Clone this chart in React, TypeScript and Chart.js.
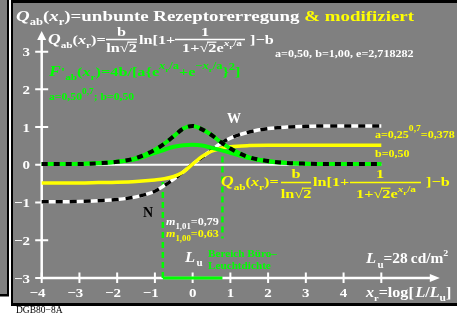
import { useEffect, useRef } from 'react';
import { Chart, registerables } from 'chart.js';

Chart.register(...registerables);

// ---- data ----
const xs = [-4, -3.5, -3, -2.5, -2, -1.5, -1, -0.75, -0.5, -0.25, 0, 0.25, 0.5, 0.75, 1, 1.5, 2, 2.5, 3, 3.5, 4, 4.5, 5];
// Q_ab(x_r), a=0,50, b=1,00 (black/white dashed)
const qBlack = [-0.98, -0.98, -0.97, -0.95, -0.92, -0.85, -0.70, -0.55, -0.38, -0.19, 0.02, 0.2, 0.39, 0.57, 0.71, 0.87, 0.96, 1.0, 1.02, 1.03, 1.03, 1.03, 1.03];
// modified Q_ab(x_r), a=0,378, b=0,50 (yellow)
const qYellow = [-0.48, -0.48, -0.48, -0.47, -0.46, -0.44, -0.40, -0.37, -0.31, -0.19, 0.02, 0.22, 0.36, 0.44, 0.48, 0.51, 0.52, 0.52, 0.52, 0.52, 0.52, 0.52, 0.52];
// F'_ab(x_r) (green with black dashes)
const dGreenDashed = [0.02, 0.02, 0.02, 0.04, 0.08, 0.18, 0.40, 0.56, 0.76, 0.96, 1.03, 0.94, 0.79, 0.60, 0.43, 0.20, 0.10, 0.05, 0.03, 0.02, 0.02, 0.02, 0.02];
// F'_ab(x_r) modified (green solid)
const dGreenSolid = [0.02, 0.02, 0.03, 0.05, 0.08, 0.15, 0.32, 0.40, 0.48, 0.52, 0.53, 0.51, 0.45, 0.39, 0.32, 0.18, 0.09, 0.05, 0.03, 0.02, 0.02, 0.02, 0.02];

const xTickValues = [-4, -3, -2, -1, 0, 1, 2, 3, 4, 5];
const xTickLabels = ['−4', '−3', '−2', '−1', '0', '1', '2', '3', '4', ''];
const yTickValues = [-3, -2, -1, 0, 1, 2, 3];
const yTickLabels = ['−3', '−2', '−1', '0', '1', '2', '3'];

const markLeftX = -0.79;
const markRightX = 0.79;
const markLeftTop = -0.38;
const markRightTop = 0.22;
const markRightBottom = -1.95;

const X_MIN = -4, X_MAX = 6.55, Y_MIN = -3, Y_MAX = 3.55;

const WHITE = '#ffffff', YEL = '#ffff00', GRN = '#00ff00', BLK = '#000000', GRAY = '#808080';
const FAM = '"Liberation Serif","Times New Roman",serif';

type Run = [string, number, string?, number?, string?];

function fnt(size: number, flags = '') {
  return `${flags.includes('i') ? 'italic ' : ''}${flags.includes('n') ? '' : 'bold '}${size}px ${FAM}`;
}
function runsWidth(ctx: CanvasRenderingContext2D, runs: Run[]) {
  let w = 0;
  for (const r of runs) { ctx.font = fnt(r[1], r[2] || ''); w += ctx.measureText(r[0]).width; }
  return w;
}
function drawRuns(ctx: CanvasRenderingContext2D, x: number, y: number, runs: Run[], color: string, sx = 1, align = 'left') {
  ctx.save();
  ctx.translate(x, y);
  ctx.scale(sx, 1);
  ctx.textAlign = 'left';
  ctx.textBaseline = 'alphabetic';
  let cx = align === 'center' ? -runsWidth(ctx, runs) / 2 : 0;
  for (const r of runs) {
    const flags = r[2] || '';
    ctx.font = fnt(r[1], flags);
    ctx.fillStyle = r[4] || color;
    const dy = r[3] || 0;
    ctx.fillText(r[0], cx, dy);
    const w = ctx.measureText(r[0]).width;
    if (flags.includes('o')) ctx.fillRect(cx - 1, dy - r[1] * 0.8, w + 1, 1.2);
    cx += w;
  }
  ctx.restore();
}
function bar(ctx: CanvasRenderingContext2D, x1: number, x2: number, y: number, color: string) {
  ctx.fillStyle = color;
  ctx.fillRect(x1, y - 0.75, x2 - x1, 1.5);
}

const pts = (ys: number[]) => xs.map((x, i) => ({ x, y: ys[i] }));

const framePlugin = {
  id: 'frame',
  beforeDraw(chart: any) {
    const ctx = chart.ctx as CanvasRenderingContext2D;
    ctx.save();
    ctx.fillStyle = WHITE; ctx.fillRect(0, 0, 457, 315);
    ctx.fillStyle = GRAY; ctx.fillRect(0, 0, 7, 295);
    ctx.fillStyle = BLK;
    ctx.fillRect(0, 294, 9, 2.5);
    ctx.fillRect(7, 0, 2, 296);
    ctx.fillRect(11, 0, 2, 306);
    ctx.fillRect(11, 0, 446, 3);
    ctx.fillRect(11, 303, 446, 3);
    ctx.fillStyle = GRAY; ctx.fillRect(13, 3, 444, 300);
    ctx.restore();
    drawRuns(ctx, 16, 313, [['DGB80−8A', 9.5, 'n']], BLK, 1);
  },
  beforeDatasetsDraw(chart: any) {
    const ctx = chart.ctx as CanvasRenderingContext2D;
    const xs_ = chart.scales.x, ys_ = chart.scales.y;
    const xA = xs_.getPixelForValue(X_MIN);
    const yB = ys_.getPixelForValue(Y_MIN);
    const yT = ys_.getPixelForValue(Y_MAX);
    const xR = xs_.getPixelForValue(X_MAX);
    ctx.save();
    ctx.strokeStyle = WHITE; ctx.fillStyle = WHITE;
    ctx.lineWidth = 2.5;
    ctx.beginPath();
    ctx.moveTo(xA, yB + 1); ctx.lineTo(xA, yT + 6);
    ctx.moveTo(xA - 1, yB); ctx.lineTo(xR - 6, yB);
    ctx.stroke();
    ctx.beginPath();
    ctx.moveTo(xA, yT); ctx.lineTo(xA - 4.5, yT + 9); ctx.lineTo(xA + 4.5, yT + 9); ctx.closePath(); ctx.fill();
    ctx.beginPath();
    ctx.moveTo(xR, yB); ctx.lineTo(xR - 10, yB - 4); ctx.lineTo(xR - 10, yB + 4); ctx.closePath(); ctx.fill();
    ctx.lineWidth = 2;
    ctx.beginPath();
    for (const v of yTickValues) {
      const y = ys_.getPixelForValue(v);
      ctx.moveTo(xA - 6.5, y); ctx.lineTo(xA + 6.5, y);
    }
    for (const v of xTickValues) {
      const x = xs_.getPixelForValue(v);
      ctx.moveTo(x, yB - 5.5); ctx.lineTo(x, yB + 5);
    }
    ctx.stroke();
    ctx.restore();
    // tick labels
    const sx = 1.15;
    xTickValues.forEach((v, i) => {
      const lab = xTickLabels[i];
      if (!lab) return;
      const x = xs_.getPixelForValue(v);
      const digits = lab.replace('−', '');
      ctx.font = fnt(13);
      const wd = ctx.measureText(digits).width * sx;
      const wm = lab.startsWith('−') ? ctx.measureText('−').width * sx : 0;
      drawRuns(ctx, x - wd / 2 - wm, 297, [[lab, 13]], WHITE, sx);
    });
    yTickValues.forEach((v, i) => {
      const y = ys_.getPixelForValue(v);
      const lab = yTickLabels[i];
      ctx.font = fnt(13);
      const w = ctx.measureText(lab).width * sx;
      drawRuns(ctx, 30 - w, y + 4.5, [[lab, 13]], WHITE, sx);
    });
  },
  afterDatasetsDraw(chart: any) {
    const ctx = chart.ctx as CanvasRenderingContext2D;
    // title
    drawRuns(ctx, 16, 21, [['Q', 15, 'i'], ['ab', 10, '', 4], ['(', 15], ['x', 15, 'i'], ['r', 10, '', 4], [')=unbunte Rezeptorerregung', 15], [' & modifiziert', 15, '', 0, YEL]], WHITE, 1.26);
    // formula (white)
    const fs = 1.25;
    drawRuns(ctx, 48, 44, [['Q', 14, 'i'], ['ab', 9, '', 4], ['(', 13], ['x', 13, 'i'], ['r', 9, '', 4], [')=', 13]], WHITE, fs);
    bar(ctx, 106, 137, 39.5, WHITE);
    drawRuns(ctx, 121.5, 36, [['b', 13]], WHITE, fs, 'center');
    drawRuns(ctx, 121.5, 52, [['ln', 13], ['√', 13], ['2', 13, 'o']], WHITE, fs, 'center');
    drawRuns(ctx, 139, 44, [['ln[1+', 13]], WHITE, fs);
    bar(ctx, 175, 245, 39.5, WHITE);
    drawRuns(ctx, 205, 36, [['1', 13]], WHITE, fs, 'center');
    drawRuns(ctx, 182, 52, [['1+', 13], ['√', 13], ['2', 13, 'o'], ['e', 13], ['x', 9, 'i', -6], ['r', 7, '', -3], ['/a', 9, '', -6]], WHITE, fs);
    drawRuns(ctx, 250, 44, [[']−b', 13]], WHITE, fs);
    drawRuns(ctx, 275, 57, [['a=0,50, b=1,00, e=2,718282', 11]], WHITE, 1.1);
    // green formula
    drawRuns(ctx, 49, 76, [['F', 14, 'i'], ['\'', 13], ['ab', 9, '', 4], ['(', 13], ['x', 13, 'i'], ['r', 9, '', 4], [')=4b/[a{e', 13], ['x', 10, 'i', -7], ['r', 7, '', -4], ['/a', 10, '', -7], ['+e', 13], ['−', 10, '', -7], ['x', 10, 'i', -7], ['r', 7, '', -4], ['/a', 10, '', -7], ['}', 13], ['2', 10, '', -6], [']', 13]], GRN, 1.25);
    drawRuns(ctx, 49, 100, [['a=0,50', 10], ['0,7', 8, '', -6], ['; b=0,50', 10]], GRN, 1.17);
    // W, N
    drawRuns(ctx, 227, 123, [['W', 14]], WHITE, 1);
    drawRuns(ctx, 143, 217, [['N', 14]], BLK, 1);
    // yellow right texts
    drawRuns(ctx, 375, 138, [['a=0,25', 10], ['0,7', 8, '', -7], ['=0,378', 10]], YEL, 1.2);
    drawRuns(ctx, 375, 157, [['b=0,50', 10]], YEL, 1.2);
    // yellow formula
    drawRuns(ctx, 221, 186, [['Q', 14, 'i'], ['ab', 9, '', 4], ['(', 13], ['x', 13, 'i'], ['r', 9, '', 4], [')=', 13]], YEL, fs);
    bar(ctx, 281, 311, 182.5, YEL);
    drawRuns(ctx, 296, 178, [['b', 13]], YEL, fs, 'center');
    drawRuns(ctx, 296, 198, [['ln', 13], ['√', 13], ['2', 13, 'o']], YEL, fs, 'center');
    drawRuns(ctx, 313, 186, [['ln[1+', 13]], YEL, fs);
    bar(ctx, 350, 421, 182.5, YEL);
    drawRuns(ctx, 380, 178, [['1', 13]], YEL, fs, 'center');
    drawRuns(ctx, 356, 198, [['1+', 13], ['√', 13], ['2', 13, 'o'], ['e', 13], ['x', 9, 'i', -6], ['r', 7, '', -3], ['/a', 9, '', -6]], YEL, fs);
    drawRuns(ctx, 426, 186, [[']−b', 13]], YEL, fs);
    // m values
    drawRuns(ctx, 166, 225, [['m', 11, 'i'], ['1,01', 8, '', 4], ['=0,79', 11]], WHITE, 1.1);
    drawRuns(ctx, 166, 237, [['m', 11, 'i'], ['1,00', 8, '', 4], ['=0,63', 11]], YEL, 1.1);
    // L_u
    drawRuns(ctx, 185, 262, [['L', 15, 'i'], [' ', 5], ['u', 10, '', 4]], WHITE, 1.1);
    drawRuns(ctx, 208, 257, [['Bereich Büro–', 10]], GRN, 1.12);
    drawRuns(ctx, 208, 269, [['Leuchtdichte', 10]], GRN, 1.12);
    drawRuns(ctx, 366, 263, [['L', 15, 'i'], [' ', 5], ['u', 10, '', 5], ['=28\u2009cd/m', 14], ['2', 9, '', -7]], WHITE, 1.1);
    drawRuns(ctx, 366, 297, [['x', 14, 'i'], ['r', 9, '', 4], ['=log[', 14], [' ', 6], ['L', 14, 'i'], ['/', 14], ['L', 14, 'i'], ['u', 10, '', 4], [']', 14]], WHITE, 1.15);
  },
};

export default function App() {
  const ref = useRef<HTMLCanvasElement>(null);
  useEffect(() => {
    const base = { pointRadius: 0, borderCapStyle: 'butt', fill: false, clip: false } as any;
    const curve = { ...base, cubicInterpolationMode: 'monotone' };
    const chart = new Chart(ref.current as HTMLCanvasElement, {
      type: 'line',
      data: {
        datasets: [
          { ...curve, data: pts(dGreenDashed), borderColor: BLK, borderWidth: 4, borderDash: [6, 6], order: 0 },
          { ...curve, data: pts(dGreenDashed), borderColor: GRN, borderWidth: 4, order: 1 },
          { ...curve, data: pts(dGreenSolid), borderColor: GRN, borderWidth: 4, order: 2 },
          { ...curve, data: pts(qYellow), borderColor: YEL, borderWidth: 3.5, order: 3 },
          { ...curve, data: pts(qBlack), borderColor: BLK, borderWidth: 3.5, borderDash: [7, 7], order: 4 },
          { ...curve, data: pts(qBlack), borderColor: WHITE, borderWidth: 3.5, order: 5 },
          { ...base, data: [{ x: X_MIN, y: 0 }, { x: 5, y: 0 }], borderColor: WHITE, borderWidth: 2, order: 6 },
          { ...base, data: [{ x: markLeftX, y: Y_MIN }, { x: markLeftX, y: markLeftTop }], borderColor: GRN, borderWidth: 2.5, borderDash: [6, 4], order: 7 },
          { ...base, data: [{ x: markRightX, y: markRightTop }, { x: markRightX, y: markRightBottom }], borderColor: GRN, borderWidth: 2.5, borderDash: [6, 4], order: 7 },
          { ...base, data: [{ x: markLeftX, y: Y_MIN }, { x: markRightX, y: Y_MIN }], borderColor: GRN, borderWidth: 3, order: 7 },
        ],
      },
      options: {
        animation: false,
        responsive: false,
        maintainAspectRatio: false,
        devicePixelRatio: 1,
        events: [],
        parsing: true,
        layout: { padding: { left: 41.7, right: 17.2, top: 30.9, bottom: 37 } },
        scales: {
          x: { type: 'linear', min: X_MIN, max: X_MAX, display: false },
          y: { type: 'linear', min: Y_MIN, max: Y_MAX, display: false },
        },
        plugins: { legend: { display: false }, tooltip: { enabled: false }, title: { display: false } },
      } as any,
      plugins: [framePlugin],
    });
    return () => chart.destroy();
  }, []);
  return (
    <div style={{ position: 'absolute', left: 0, top: 0, width: 457, height: 315 }}>
      <canvas ref={ref} width={457} height={315} style={{ display: 'block', width: 457, height: 315 }} />
    </div>
  );
}
